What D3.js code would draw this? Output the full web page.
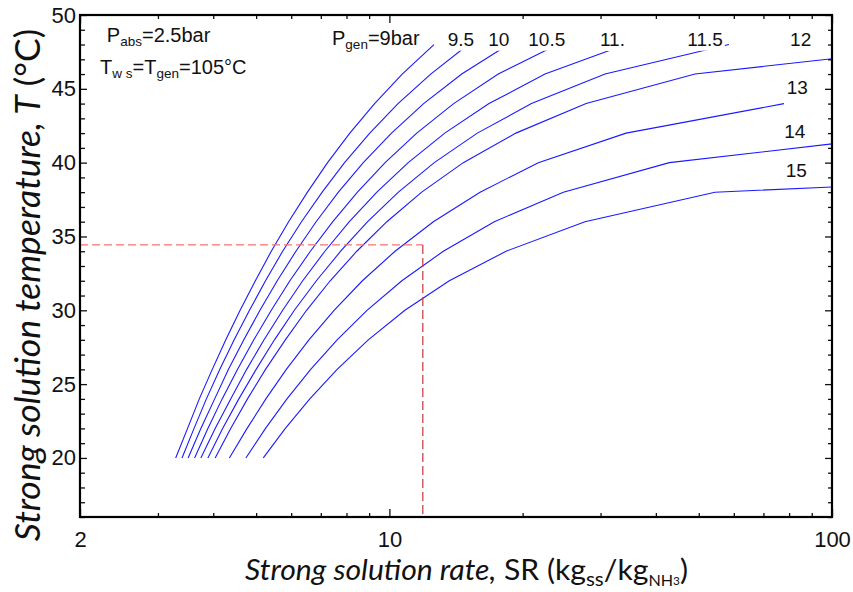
<!DOCTYPE html>
<html>
<head>
<meta charset="utf-8">
<script src="https://cdn.jsdelivr.net/npm/d3@7/dist/d3.min.js"></script>
<style>
  body { margin: 0; background: #fff; }
  svg { display: block; }
</style>
</head>
<body>
<svg id="chart" width="853" height="592"></svg>
<script>
// generator pressures, one curve each
var pressures = [9, 9.5, 10, 10.5, 11, 11.5, 12, 13, 14, 15];

// strong solution temperature (°C) for each curve
var temps     = [20, 22, 24, 26, 28, 30, 32, 34, 36, 38, 40, 42, 44, 46, 48];
var temps12   = [20, 22, 24, 26, 28, 30, 32, 34, 36, 38, 40, 42, 44, 46, 47.04];
var temps13   = [20, 22, 24, 26, 28, 30, 32, 34, 36, 38, 40, 42, 44];
var temps14   = [20, 22, 24, 26, 28, 30, 32, 34, 36, 38, 40, 41.27];
var temps15   = [20, 22, 24, 26, 28, 30, 32, 34, 36, 38, 38.35];

// strong solution rate SR (kg_ss/kg_NH3)
var sr9   = [3.29, 3.50, 3.72, 3.98, 4.27, 4.60, 4.98, 5.41, 5.92, 6.53, 7.25, 8.14, 9.26, 10.69, 12.61];
var sr9_5 = [3.40, 3.62, 3.86, 4.14, 4.46, 4.83, 5.25, 5.74, 6.33, 7.05, 7.92, 9.03, 10.46, 12.40, 15.08];
var sr10  = [3.51, 3.75, 4.03, 4.33, 4.69, 5.10, 5.58, 6.15, 6.83, 7.67, 8.73, 10.11, 11.95, 14.57, 18.58];
var sr10_5= [3.63, 3.89, 4.19, 4.54, 4.94, 5.41, 5.96, 6.63, 7.45, 8.47, 9.78, 11.53, 13.97, 17.62, 24.0];
var sr11  = [3.75, 4.04, 4.38, 4.76, 5.21, 5.74, 6.37, 7.15, 8.12, 9.37, 11.03, 13.34, 16.79, 22.47, 34.2];
var sr11_5= [3.89, 4.20, 4.57, 5.00, 5.50, 6.10, 6.84, 7.76, 8.93, 10.48, 12.63, 15.80, 20.94, 30.71, 58.5];
var sr12  = [4.04, 4.38, 4.78, 5.25, 5.82, 6.50, 7.35, 8.44, 9.87, 11.83, 14.69, 19.31, 27.83, 49.04, 100];
var sr13  = [4.35, 4.77, 5.26, 5.85, 6.58, 7.50, 8.69, 10.30, 12.57, 16.03, 21.70, 34.26, 77.92];
var sr14  = [4.74, 5.25, 5.87, 6.64, 7.62, 8.90, 10.67, 13.24, 17.26, 24.72, 42.91, 100];
var sr15  = [5.19, 5.82, 6.61, 7.62, 8.96, 10.84, 13.66, 18.35, 27.66, 54.4, 100];

var curveTemps = [temps, temps, temps, temps, temps, temps, temps12, temps13, temps14, temps15];
var curveSR = [sr9, sr9_5, sr10, sr10_5, sr11, sr11_5, sr12, sr13, sr14, sr15];

// curve labels, anchored in data units
var labelText = ["9.5", "10", "10.5", "11.", "11.5", "12", "13", "14", "15"];
var labelSR   = [13.55, 16.73, 20.6, 29.9, 47.1, 80.4, 79.0, 78.0, 78.6];
var labelT    = [47.92, 47.92, 47.92, 47.90, 47.92, 47.92, 44.63, 41.65, 39.05];

// design point guide
var guideSR = 11.9;
var guideT = 34.43;

// ticks
var xTickLabels = [2, 10, 100];
var xMinorTicks = [3, 4, 5, 6, 7, 8, 9, 20, 30, 40, 50, 60, 70, 80, 90];
var yTickLabels = [20, 25, 30, 35, 40, 45, 50];
var yMinorTicks = [16, 17, 18, 19, 21, 22, 23, 24, 26, 27, 28, 29, 31, 32, 33, 34, 36, 37, 38, 39, 41, 42, 43, 44, 46, 47, 48, 49];

var width = 853, height = 592;
var margin = {top: 15, right: 21, bottom: 75, left: 80};
var plotW = width - margin.left - margin.right;
var plotH = height - margin.top - margin.bottom;

var svg = d3.select("#chart");

var x = d3.scaleLog().domain([2, 100]).range([margin.left, margin.left + plotW]);
var y = d3.scaleLinear().domain([16, 50]).range([margin.top + plotH, margin.top]);

svg.append("defs").append("clipPath").attr("id", "plotclip")
    .append("rect")
    .attr("x", margin.left).attr("y", margin.top)
    .attr("width", plotW).attr("height", plotH);

var line = d3.line()
    .x(function(d) { return x(d[0]); })
    .y(function(d) { return y(d[1]); });

var curves = svg.append("g").attr("clip-path", "url(#plotclip)");
for (var i = 0; i < pressures.length; i++) {
    var pts = curveSR[i].map(function(v, j) { return [v, curveTemps[i][j]]; });
    curves.append("path")
        .attr("d", line(pts))
        .attr("fill", "none")
        .attr("stroke", "#1a1aff")
        .attr("stroke-width", 1.1);
}

// dashed guide lines
svg.append("line")
    .attr("x1", x(2)).attr("x2", x(guideSR))
    .attr("y1", y(guideT)).attr("y2", y(guideT))
    .attr("stroke", "#ff7070").attr("stroke-width", 1.4)
    .attr("stroke-dasharray", "8,4");
svg.append("line")
    .attr("x1", x(guideSR)).attr("x2", x(guideSR))
    .attr("y1", y(guideT)).attr("y2", y(16))
    .attr("stroke", "#c8343e").attr("stroke-width", 1.2)
    .attr("stroke-dasharray", "9,4");

var textFont = "'Liberation Sans', Arial, sans-serif";

// curve labels with white boxes (they hide the curve ends)
function boxed(g) {
    var b = g.select("text").node().getBBox();
    g.insert("rect", "text")
        .attr("x", b.x - 1).attr("y", b.y - 1)
        .attr("width", b.width + 3).attr("height", b.height + 2)
        .attr("fill", "#fff");
}

for (var k = 0; k < labelText.length; k++) {
    var g = svg.append("g");
    g.append("text")
        .attr("x", x(labelSR[k])).attr("y", y(labelT[k]))
        .attr("font-family", textFont).attr("font-size", 19)
        .attr("fill", "#111")
        .text(labelText[k]);
    boxed(g);
}

var pg = svg.append("g");
var pgt = pg.append("text")
    .attr("x", x(7.42)).attr("y", y(47.97))
    .attr("font-family", textFont).attr("font-size", 20).attr("fill", "#111");
pgt.append("tspan").text("P");
pgt.append("tspan").attr("font-size", 13.5).attr("dy", 4).text("gen");
pgt.append("tspan").attr("dy", -4).text("=9bar");
boxed(pg);

var pa = svg.append("text")
    .attr("x", x(2.30)).attr("y", y(48.19))
    .attr("font-family", textFont).attr("font-size", 20).attr("fill", "#111");
pa.append("tspan").text("P");
pa.append("tspan").attr("font-size", 13.5).attr("dy", 4).text("abs");
pa.append("tspan").attr("dy", -4).text("=2.5bar");

var tw = svg.append("text")
    .attr("x", x(2.22)).attr("y", y(46.0))
    .attr("font-family", textFont).attr("font-size", 20).attr("fill", "#111");
tw.append("tspan").text("T");
tw.append("tspan").attr("font-size", 13.5).attr("dy", 4).text("w s");
tw.append("tspan").attr("dy", -4).text("=T");
tw.append("tspan").attr("font-size", 13.5).attr("dy", 4).text("gen");
tw.append("tspan").attr("dy", -4).text("=105°C");

// axes, ticks pointing inward
function styleAxis(sel) {
    sel.select(".domain").remove();
    sel.selectAll(".tick line").attr("stroke", "#111").attr("stroke-width", 1.3);
    sel.selectAll(".tick text").attr("font-family", textFont).attr("font-size", 22).attr("fill", "#111");
}
var yBottom = margin.top + plotH, xRight = margin.left + plotW;

svg.append("g").attr("transform", "translate(0," + yBottom + ")")
    .call(d3.axisBottom(x).tickValues(xTickLabels).tickFormat(d3.format("d")).tickSize(-8).tickPadding(14))
    .call(styleAxis);
svg.append("g").attr("transform", "translate(0," + yBottom + ")")
    .call(d3.axisBottom(x).tickValues(xMinorTicks).tickFormat("").tickSize(-4))
    .call(styleAxis);
svg.append("g").attr("transform", "translate(0," + margin.top + ")")
    .call(d3.axisTop(x).tickValues(xTickLabels).tickFormat("").tickSize(-8))
    .call(styleAxis);
svg.append("g").attr("transform", "translate(0," + margin.top + ")")
    .call(d3.axisTop(x).tickValues(xMinorTicks).tickFormat("").tickSize(-4))
    .call(styleAxis);

svg.append("g").attr("transform", "translate(" + margin.left + ",0)")
    .call(d3.axisLeft(y).tickValues(yTickLabels).tickSize(-7).tickPadding(4))
    .call(styleAxis);
svg.append("g").attr("transform", "translate(" + margin.left + ",0)")
    .call(d3.axisLeft(y).tickValues(yMinorTicks).tickFormat("").tickSize(-5))
    .call(styleAxis);
svg.append("g").attr("transform", "translate(" + xRight + ",0)")
    .call(d3.axisRight(y).tickValues(yTickLabels).tickFormat("").tickSize(-7))
    .call(styleAxis);
svg.append("g").attr("transform", "translate(" + xRight + ",0)")
    .call(d3.axisRight(y).tickValues(yMinorTicks).tickFormat("").tickSize(-4))
    .call(styleAxis);

svg.append("rect")
    .attr("x", margin.left).attr("y", margin.top)
    .attr("width", plotW).attr("height", plotH)
    .attr("fill", "none").attr("stroke", "#000").attr("stroke-width", 2.2);

// axis titles
var titleFont = "Lato, 'Open Sans', sans-serif";
var xt = svg.append("text")
    .attr("x", 245).attr("y", 580)
    .attr("textLength", 443).attr("lengthAdjust", "spacingAndGlyphs")
    .attr("font-family", titleFont).attr("font-size", 28).attr("fill", "#111");
xt.append("tspan").attr("font-style", "italic").text("Strong solution rate,");
xt.append("tspan").text(" SR (kg");
xt.append("tspan").attr("font-size", 19).attr("dy", 6).text("ss");
xt.append("tspan").attr("dy", -6).text("/kg");
xt.append("tspan").attr("font-size", 15).attr("dy", 6).text("NH");
xt.append("tspan").attr("font-size", 11).attr("dy", -1).text("3");
xt.append("tspan").attr("dy", -5).text(")");

var yt = svg.append("text")
    .attr("transform", "translate(40,285) rotate(-90)")
    .attr("text-anchor", "middle")
    .attr("font-family", titleFont).attr("font-size", 35.5).attr("fill", "#111");
yt.append("tspan").attr("font-style", "italic").text("Strong solution temperature, T");
yt.append("tspan").text(" (°C)");
</script>
</body>
</html>
